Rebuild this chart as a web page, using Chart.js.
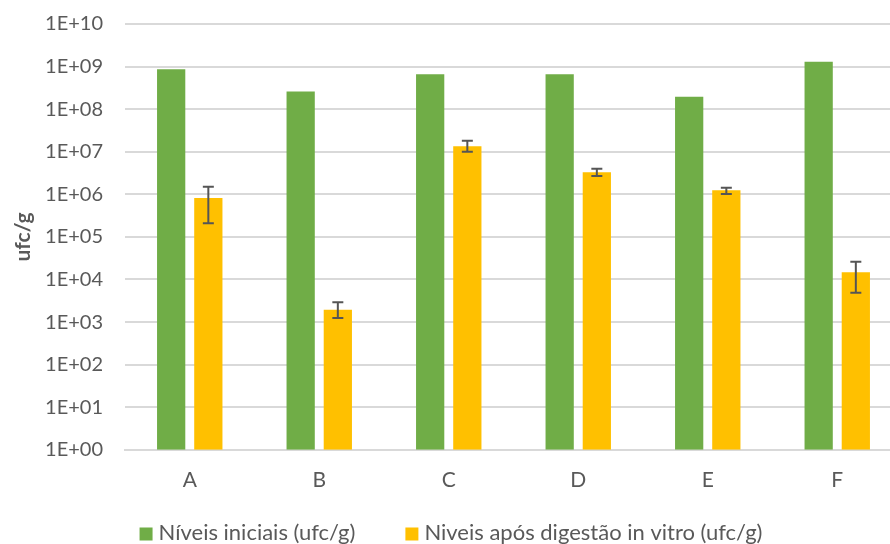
<!DOCTYPE html>
<html>
<head>
<meta charset="utf-8">
<script src="https://cdn.jsdelivr.net/npm/chart.js@4/dist/chart.umd.min.js"></script>
<style>
  html, body { margin: 0; padding: 0; background: #fff; overflow: hidden; }
  #wrap { width: 902px; height: 544px; position: relative; }
</style>
</head>
<body>
<div id="wrap"><canvas id="c"></canvas></div>
<script>
// Amostras
const categories = ['A', 'B', 'C', 'D', 'E', 'F'];

// Contagens iniciais (ufc/g)
const initialLevels = [8.6e8, 2.6e8, 6.6e8, 6.6e8, 1.95e8, 1.3e9];

// Contagens após digestão in vitro (ufc/g) e limites das barras de erro
const digestedLevels = [8.2e5, 1.95e3, 1.35e7, 3.3e6, 1.25e6, 1.48e4];
const digestedHigh   = [1.5e6, 2.9e3, 1.8e7, 4.0e6, 1.42e6, 2.6e4];
const digestedLow    = [2.1e5, 1.24e3, 1.0e7, 2.7e6, 1.02e6, 4.9e3];

// Marcas do eixo logarítmico
const decadeTicks = [1, 1e1, 1e2, 1e3, 1e4, 1e5, 1e6, 1e7, 1e8, 1e9, 1e10];

const FONT = 'Lato, "Open Sans", sans-serif';
const TEXT = '#595959';

function sciLabel(v) {
  const e = Math.round(Math.log10(v));
  return '1E+' + String(e).padStart(2, '0');
}

// Barras de erro desenhadas com as escalas do gráfico
const errorBars = {
  id: 'errorBars',
  afterDatasetsDraw(chart) {
    const meta = chart.getDatasetMeta(1);
    const y = chart.scales.y;
    const ctx = chart.ctx;
    ctx.save();
    ctx.strokeStyle = '#555555';
    ctx.lineWidth = 2;
    meta.data.forEach((bar, i) => {
      const x = bar.x;
      const yh = y.getPixelForValue(digestedHigh[i]);
      const yl = y.getPixelForValue(digestedLow[i]);
      ctx.beginPath();
      ctx.moveTo(x, yh); ctx.lineTo(x, yl);
      ctx.moveTo(x - 5.5, yh); ctx.lineTo(x + 5.5, yh);
      ctx.moveTo(x - 5.5, yl); ctx.lineTo(x + 5.5, yl);
      ctx.stroke();
    });
    ctx.restore();
  }
};

// Legenda inferior: quadrado colorido + rótulo de cada série, centrada
const bottomLegend = {
  id: 'bottomLegend',
  afterDraw(chart) {
    const ctx = chart.ctx;
    const box = 13, gap = 6, itemGap = 50, yMid = 533;
    ctx.save();
    ctx.font = '22px ' + FONT;
    ctx.textBaseline = 'middle';
    ctx.textAlign = 'left';
    const items = chart.data.datasets.map(ds => ({
      text: ds.label, color: ds.backgroundColor, w: box + gap + ctx.measureText(ds.label).width
    }));
    const total = items.reduce((s, it) => s + it.w, 0) + itemGap * (items.length - 1);
    let x = chart.width / 2 - total / 2;
    items.forEach(it => {
      ctx.fillStyle = it.color;
      ctx.fillRect(x, yMid - box / 2 + 1, box, box);
      ctx.fillStyle = TEXT;
      ctx.fillText(it.text, x + box + gap, yMid);
      x += it.w + itemGap;
    });
    ctx.restore();
  }
};

new Chart(document.getElementById('c'), {
  type: 'bar',
  data: {
    labels: categories,
    datasets: [
      {
        label: 'Níveis iniciais (ufc/g)',
        data: initialLevels,
        backgroundColor: '#70AD47',
        categoryPercentage: 0.574,
        barPercentage: 0.76
      },
      {
        label: 'Niveis após digestão in vitro (ufc/g)',
        data: digestedLevels,
        backgroundColor: '#FFC000',
        categoryPercentage: 0.574,
        barPercentage: 0.76
      }
    ]
  },
  plugins: [errorBars, bottomLegend],
  options: {
    responsive: true,
    maintainAspectRatio: false,
    animation: false,
    layout: { padding: { top: 24, right: 0, bottom: 33, left: 0 } },
    plugins: {
      tooltip: { enabled: false },
      legend: { display: false }
    },
    scales: {
      x: {
        grid: { display: false, drawTicks: false },
        border: { color: '#D9D9D9', width: 2 },
        ticks: { font: { family: FONT, size: 21 }, color: TEXT, padding: 18 }
      },
      y: {
        type: 'logarithmic',
        min: 1,
        max: 1e10,
        afterBuildTicks: s => { s.ticks = decadeTicks.map(v => ({ value: v })); },
        afterFit: s => { s.width = 125; s.paddingTop = 0; s.paddingBottom = 0; },
        grid: { color: '#D9D9D9', lineWidth: 2, drawTicks: false },
        border: { display: false },
        ticks: {
          font: { family: FONT, size: 20 },
          color: TEXT,
          padding: 22,
          callback: v => sciLabel(v)
        },
        title: {
          display: true,
          text: 'ufc/g',
          font: { family: FONT, size: 21, weight: 'bold' },
          color: TEXT,
          padding: { top: 11, bottom: 0 }
        }
      }
    }
  }
});
</script>
</body>
</html>
